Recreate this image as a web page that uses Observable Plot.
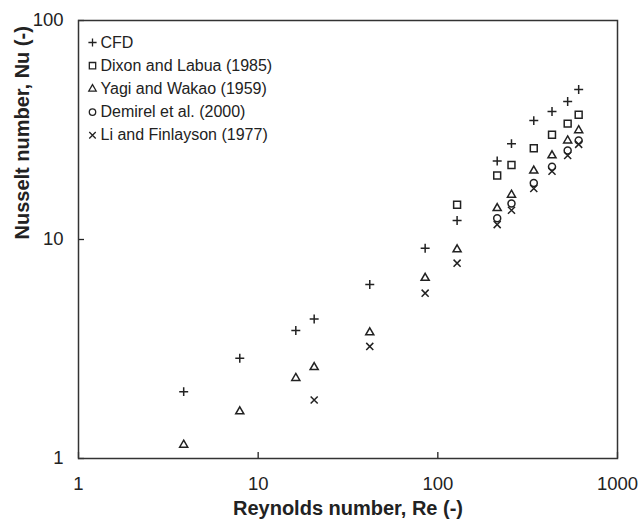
<!DOCTYPE html>
<html><head><meta charset="utf-8">
<script src="https://cdn.jsdelivr.net/npm/d3@7"></script>
<script src="https://cdn.jsdelivr.net/npm/@observablehq/plot@0.6"></script>
<style>body{margin:0;background:#fff}</style>
</head><body><div id="chart"></div>
<script>
// Reynolds numbers
const reAll = [3.85, 7.9, 16.2, 20.5, 41.8, 85, 128, 214, 257, 342, 432, 528, 608];
const nuCFD = [2.02, 2.87, 3.84, 4.34, 6.23, 9.12, 12.2, 22.8, 27.4, 34.9, 38.4, 42.7, 48.4];
const reDixon = [128, 214, 257, 342, 432, 528, 608];
const nuDixon = [14.4, 19.6, 21.9, 26.1, 30.1, 33.8, 37.1];
const nuYagi = [1.155, 1.64, 2.33, 2.61, 3.76, 6.67, 9.0, 13.9, 16.0, 20.6, 24.2, 28.3, 31.5];
const reDemirel = [214, 257, 342, 432, 528, 608];
const nuDemirel = [12.5, 14.6, 18.1, 21.5, 25.5, 28.3];
const reLi = [20.5, 41.8, 85, 128, 214, 257, 342, 432, 528, 608];
const nuLi = [1.85, 3.25, 5.69, 7.8, 11.7, 13.6, 17.1, 20.5, 24.2, 27.2];

const seriesNames = ["CFD", "Dixon and Labua (1985)", "Yagi and Wakao (1959)", "Demirel et al. (2000)", "Li and Finlayson (1977)"];
const xTicks = [1, 10, 100, 1000];
const yTicks = [1, 10, 100];
const xTitle = "Reynolds number, Re (-)";
const yTitle = "Nusselt number, Nu (-)";

const series = [
  {name: seriesNames[0], symbol: "plus", r: 3.0, re: reAll, nu: nuCFD},
  {name: seriesNames[1], symbol: "square", r: 3.9, re: reDixon, nu: nuDixon},
  {name: seriesNames[2], symbol: "triangle", r: 3.0, re: reAll, nu: nuYagi},
  {name: seriesNames[3], symbol: "circle", r: 3.5, re: reDemirel, nu: nuDemirel},
  {name: seriesNames[4], symbol: "times", r: 3.3, re: reLi, nu: nuLi}
];

const ink = "#222";
const marks = [];
series.forEach((s, i) => {
  const rows = s.re.map((re, j) => ({re, nu: s.nu[j]}));
  marks.push(Plot.dot(rows, {x: "re", y: "nu", symbol: s.symbol, r: s.r, stroke: ink, fill: "none", strokeWidth: 1.5}));
  // legend entry
  marks.push(Plot.dot([s.name], {frameAnchor: "top-left", dx: 14, dy: 22 + 23.2 * i, symbol: s.symbol, r: s.r * 0.92, stroke: ink, fill: "none", strokeWidth: 1.3}));
  marks.push(Plot.text([s.name], {frameAnchor: "top-left", dx: 22, dy: 22 + 23.2 * i, text: d => d, textAnchor: "start", lineAnchor: "middle", fontSize: 16, fill: ink}));
});

const chart = Plot.plot({
  width: 639,
  height: 529,
  marginLeft: 78,
  marginRight: 22,
  marginTop: 20,
  marginBottom: 71,
  style: {fontFamily: "'Liberation Sans', Arial, sans-serif", fontSize: "18.5px", color: ink, background: "#fff"},
  x: {type: "log", domain: [1, 1000]},
  y: {type: "log", domain: [1, 100]},
  marks: [
    Plot.axisX({ticks: xTicks, tickSize: -6, tickFormat: () => "", label: null, strokeWidth: 1.3}),
    Plot.axisX({ticks: xTicks, tickSize: 0, tickPadding: 18, tickFormat: d => String(d), label: null, fontSize: 18.5}),
    Plot.axisY({ticks: yTicks, tickSize: -6, tickFormat: () => "", label: null, strokeWidth: 1.3}),
    Plot.axisY({ticks: yTicks, tickSize: 0, tickPadding: 15, tickFormat: d => String(d), label: null, fontSize: 18.5}),
    Plot.frame({stroke: "#333", strokeWidth: 1.5}),
    Plot.text([xTitle], {frameAnchor: "bottom", dy: 50, text: d => d, lineAnchor: "middle", fontWeight: "bold", fontSize: 20, fill: ink}),
    Plot.text([yTitle], {frameAnchor: "left", dx: -56, text: d => d, rotate: -90, lineAnchor: "middle", fontWeight: "bold", fontSize: 20, fill: ink}),
    ...marks
  ]
});
document.getElementById("chart").appendChild(chart);
</script>
</body></html>
